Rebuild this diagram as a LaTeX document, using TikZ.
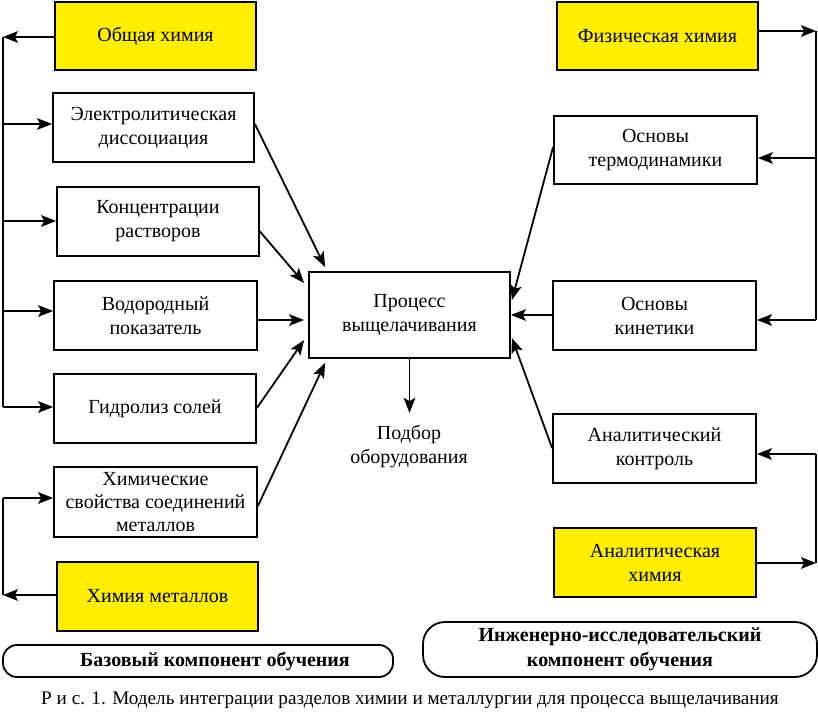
\documentclass[tikz,border=0pt]{standalone}
\usepackage{fontspec}
\setmainfont{Liberation Serif}
\usetikzlibrary{arrows.meta,calc}
\definecolor{boxyellow}{RGB}{255,238,0}
\begin{document}
\begin{tikzpicture}[x=0.5pt,y=-0.5pt,
  bx/.style={draw,line width=0.9pt,inner sep=0pt,align=center,font=\fontsize{10}{12}\selectfont},
  ybx/.style={bx,fill=boxyellow},
  pill/.style={draw,line width=0.9pt,inner sep=0pt,align=center,font=\fontsize{10}{12.5}\selectfont\bfseries},
  arr/.style={line width=0.9pt,-{Stealth[length=7.5pt,width=5.8pt,inset=1.6pt]}},
  ln/.style={line width=0.9pt}]
\useasboundingbox (0,0) rectangle (818,717);
% left column
\node[ybx,minimum width=100.5pt,minimum height=34pt] (obsh) at (155.5,36) {Общая химия};
\node[bx,minimum width=100.5pt,minimum height=34.5pt] (elec) at (153.5,127.5) {Электролитическая\\диссоциация};
\node[bx,minimum width=101pt,minimum height=34.5pt] (konc) at (158,221.5) {Концентрации\\растворов};
\node[bx,minimum width=101.5pt,minimum height=34.5pt] (vodo) at (155.5,315.5) {Водородный\\показатель};
\node[bx,minimum width=101pt,minimum height=34.5pt] (gidr) at (155,408.5) {Гидролиз солей};
\node[bx,minimum width=101.5pt,minimum height=35pt,font=\fontsize{10}{11.5}\selectfont] (khim) at (155.5,502) {Химические\\свойства соединений\\металлов};
\node[ybx,minimum width=100.5pt,minimum height=34.5pt] (met) at (157.5,596.5) {Химия металлов};
\node[pill,rounded corners=7pt,minimum width=195pt,minimum height=16pt] (baz) at (198,661) {\hspace*{17pt}Базовый компонент обучения};
% centre
\node[bx,minimum width=100.5pt,minimum height=43pt] (proc) at (409.5,315) {Процесс\\выщелачивания};
\node[align=center,inner sep=0pt,font=\fontsize{10}{12}\selectfont] (podb) at (409,446) {Подбор\\оборудования};
% right column
\node[ybx,minimum width=100.5pt,minimum height=34pt] (fiz) at (657.5,36) {Физическая химия};
\node[bx,minimum width=101.5pt,minimum height=34pt] (term) at (655.5,150) {Основы\\термодинамики};
\node[bx,minimum width=101.5pt,minimum height=34.5pt] (kin) at (654.5,315.5) {Основы\\кинетики};
\node[bx,minimum width=101.5pt,minimum height=34.5pt] (anal) at (654.5,448.5) {Аналитический\\контроль};
\node[ybx,minimum width=101pt,minimum height=34.5pt] (anch) at (655,562.5) {Аналитическая\\химия};
\node[pill,rounded corners=11pt,minimum width=197pt,minimum height=27.5pt] (inzh) at (620,649.5) {Инженерно-исследовательский\\компонент обучения};
% caption
\node[inner sep=0pt,font=\fontsize{9.6}{12}\selectfont] (cap) at (410,700) {Р и с. 1. Модель интеграции разделов химии и металлургии для процесса выщелачивания};
% left bus
\coordinate (lb1) at (3,37);
\coordinate (lb2) at (3,124);
\coordinate (lb3) at (3,221);
\coordinate (lb4) at (3,311);
\coordinate (lb5) at (3,407);
\draw[arr] (obsh.west |- lb1) -- (lb1);
\draw[ln] (lb1) -- (lb5);
\draw[arr] (lb2) -- (lb2 -| elec.west);
\draw[arr] (lb3) -- (lb3 -| konc.west);
\draw[arr] (lb4) -- (lb4 -| vodo.west);
\draw[arr] (lb5) -- (lb5 -| gidr.west);
\coordinate (lc1) at (3,498);
\coordinate (lc2) at (3,595);
\draw[arr] (met.west |- lc2) -- (lc2);
\draw[ln] (lc2) -- (lc1);
\draw[arr] (lc1) -- (lc1 -| khim.west);
% right bus
\coordinate (rb1) at (816,31);
\coordinate (rb2) at (816,158);
\coordinate (rb3) at (816,320);
\draw[arr] (fiz.east |- rb1) -- (rb1);
\draw[ln] (rb1) -- (rb3);
\draw[arr] (rb2) -- (rb2 -| term.east);
\draw[arr] (rb3) -- (rb3 -| kin.east);
\coordinate (rc1) at (816,454);
\coordinate (rc2) at (816,563);
\draw[arr] (anch.east |- rc2) -- (rc2);
\draw[ln] (rc2) -- (rc1);
\draw[arr] (rc1) -- (rc1 -| anal.east);
% into centre
\draw[arr] ($(elec.east)+(0,-3.5)$) -- ($(proc.north west)+(17,-4)$);
\draw[arr] ($(konc.east)+(0,10)$) -- ($(proc.north west)+(-4,12)$);
\draw[arr] ($(vodo.east)+(0,4.5)$) -- ($(proc.west)+(-4,5)$);
\draw[arr] ($(gidr.east)+(0,-0.5)$) -- ($(proc.west)+(-4,25)$);
\draw[arr] ($(khim.east)+(0,4)$) -- ($(proc.south west)+(17,4)$);
\draw[arr] ($(term.west)+(0,-3)$) -- ($(proc.east)+(1,-15)$);
\draw[arr] (kin.west |- proc.east) -- (proc.east);
\draw[arr] ($(anal.west)+(0,-0.5)$) -- ($(proc.east)+(1,23)$);
\draw[arr] (proc.south) -- ($(proc.south)+(0,54)$);
\end{tikzpicture}
\end{document}
